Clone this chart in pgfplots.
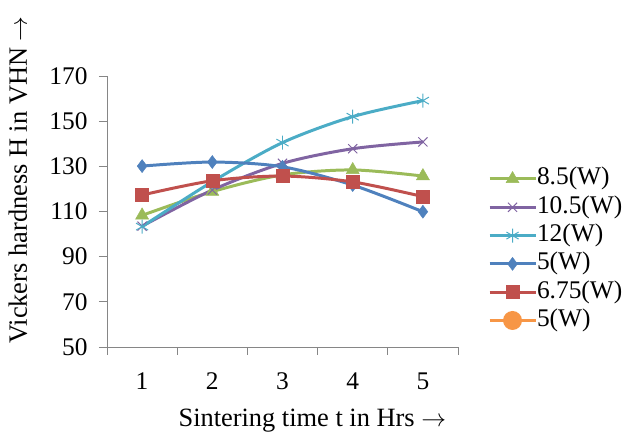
\documentclass[border=0pt]{standalone}
\usepackage{pgfplots}
\pgfplotsset{compat=1.18}
\usepackage{fontspec}
\setmainfont{Liberation Serif}
\definecolor{cgreen}{HTML}{9BBB59}
\definecolor{cpurple}{HTML}{8064A2}
\definecolor{ccyan}{HTML}{4BACC6}
\definecolor{cblue}{HTML}{4F81BD}
\definecolor{cred}{HTML}{C0504D}
\definecolor{corange}{HTML}{F79646}
\definecolor{caxis}{HTML}{868686}
\begin{document}
\begin{tikzpicture}[x=1bp,y=1bp]
\useasboundingbox (-107,-90) rectangle (525,347);
\begin{axis}[
  at={(0,0)}, anchor=south west,
  scale only axis, width=351bp, height=271bp,
  xmin=0.5, xmax=5.5, ymin=50, ymax=170,
  axis x line*=bottom, axis y line*=left,
  axis line style={draw=caxis, line width=0.8pt},
  xtick={0.5,1.5,...,5.5},
  xticklabels={1,2,3,4,5,},
  x tick label as interval,
  ytick={50,70,...,170},
  tick align=outside,
  major tick length=8bp,
  tick style={draw=caxis, line width=0.8pt},
  /pgf/number format/assume math mode=true,
  tick label style={font=\fontsize{25.5}{28}\selectfont, text=black},
  xticklabel style={yshift=-14bp},
  yticklabel style={xshift=-8bp},
  xlabel={Sintering time t in Hrs $\rightarrow$},
  ylabel={Vickers hardness H in VHN $\rightarrow$},
  label style={font=\fontsize{26.5}{28}\selectfont},
  xlabel style={at={(axis description cs:0.585,-0.27)}, anchor=center},
  ylabel style={at={(axis description cs:-0.254,0.616)}, anchor=center},
  legend style={at={(axis description cs:1.085,0.665)}, anchor=north west,
    draw=none, fill=none, font=\fontsize{25.5}{28}\selectfont,
    nodes={inner sep=0pt, text height=18bp, text depth=6bp},
    row sep=4.3bp, inner sep=0pt},
  legend cell align=left,
  legend image code/.code={
    \draw[mark repeat=2,mark phase=2] plot coordinates {(0bp,0bp) (23bp,0bp) (46bp,0bp)};},
  every axis plot/.append style={line width=3pt, smooth, tension=0.5},
]
\addplot[cgreen, mark=triangle*, mark size=7.5pt, mark options={solid, line width=0.5pt}] coordinates {(1,108.3) (2,118.8) (3,126.2) (4,128.4) (5,125.7)};
\addlegendentry{8.5(W)}
\addplot[cpurple, mark=x, mark size=6.5pt, mark options={solid, line width=1pt}] coordinates {(1,103.5) (2,119.5) (3,131.3) (4,137.8) (5,140.8)};
\addlegendentry{10.5(W)}
\addplot[ccyan, mark=asterisk, mark size=7pt, mark options={solid, line width=1pt}] coordinates {(1,103.3) (2,123.2) (3,140.5) (4,152) (5,159.1)};
\addlegendentry{12(W)}
\addplot[cblue, mark=diamond*, mark size=6.5pt, mark options={solid, line width=0.5pt}] coordinates {(1,130.1) (2,131.9) (3,129.8) (4,121.7) (5,109.9)};
\addlegendentry{5(W)}
\addplot[cred, mark=square*, mark size=6.5pt, mark options={solid, line width=0.5pt}] coordinates {(1,117.3) (2,123.6) (3,125.7) (4,123.1) (5,116.6)};
\addlegendentry{6.75(W)}
\addlegendimage{corange, line width=3pt, mark=*, mark size=8pt, mark options={solid}}
\addlegendentry{5(W)}
\end{axis}
\end{tikzpicture}
\end{document}
